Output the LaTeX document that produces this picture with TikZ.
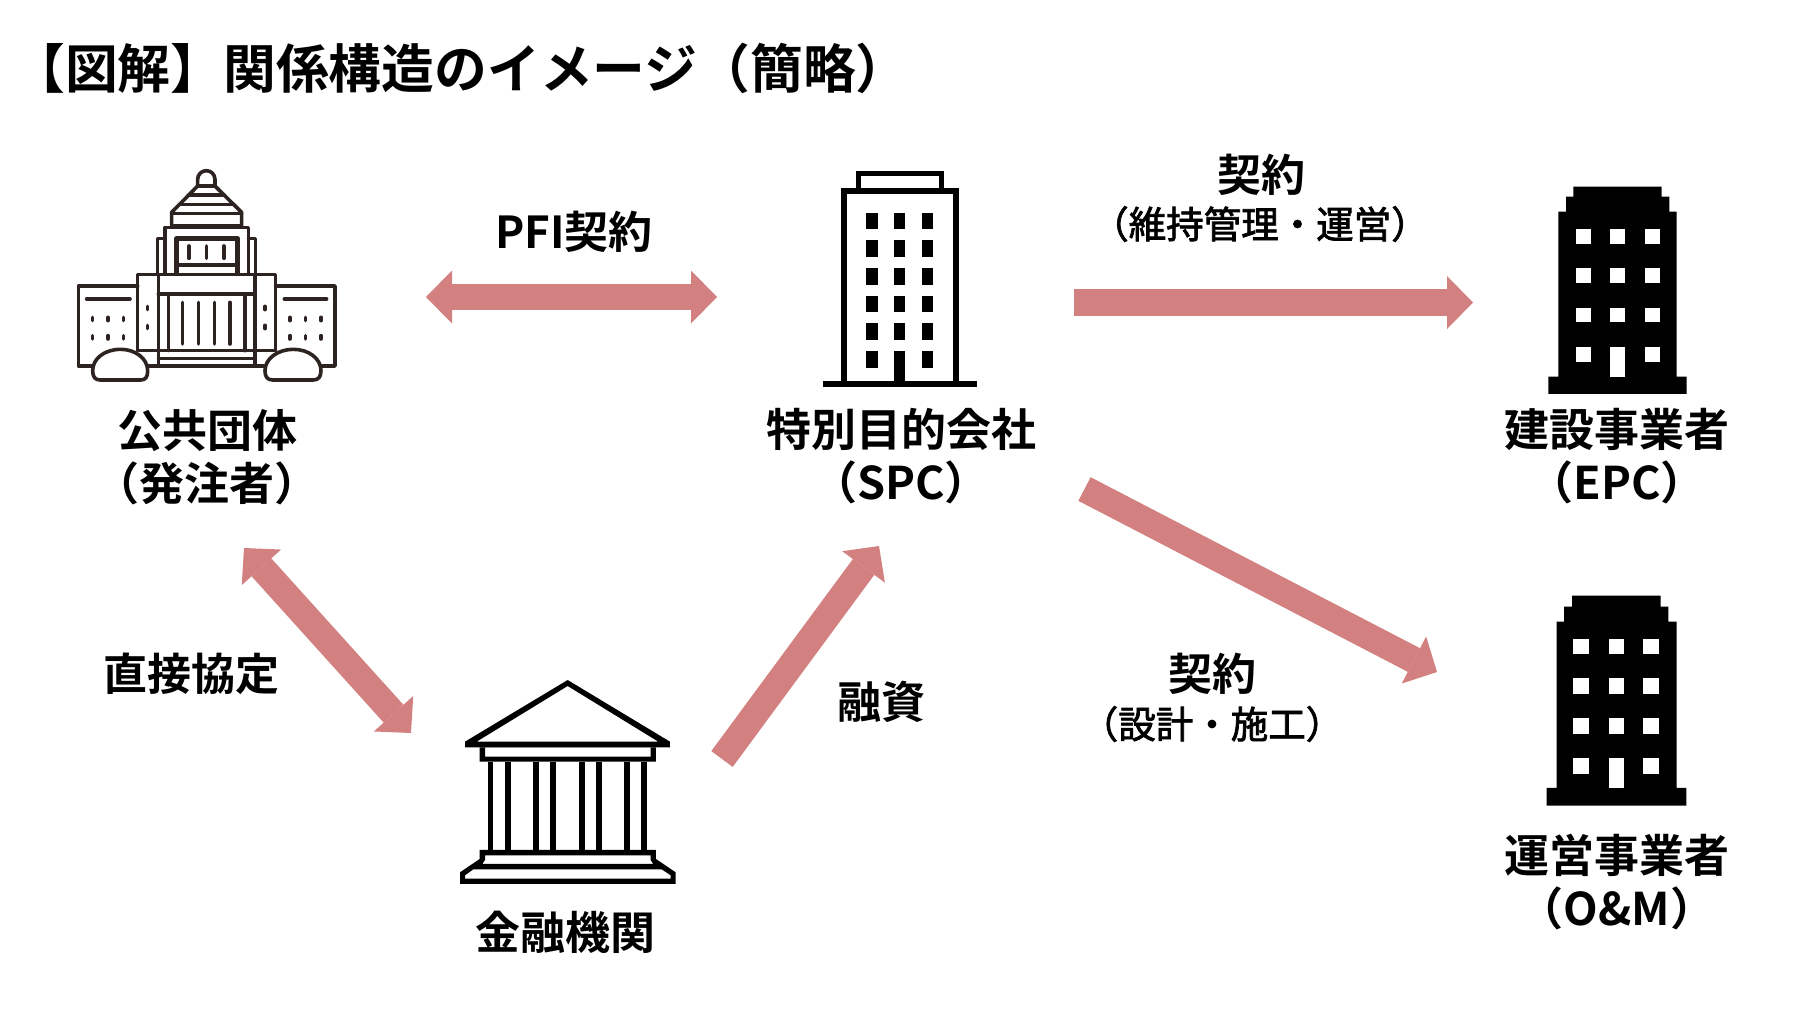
\documentclass[tikz,border=0pt]{standalone}
\usepackage{fontspec}
\usetikzlibrary{arrows.meta}
\setmainfont{Noto Sans CJK JP}
\newfontfamily\jpmed{Noto Sans CJK JP}[FakeBold=2]
\newfontfamily\jpttl{Noto Sans CJK JP}[UprightFont=* Bold]
\definecolor{arrowrose}{RGB}{211,128,128}
\definecolor{capink}{RGB}{45,35,32}
\tikzset{
  x=1pt,y=-1pt,
  blockone/.style={draw=arrowrose,line width=26.6pt,-{Triangle[length=26pt,width=53pt,line width=0pt]}},
  blocktwo/.style={draw=arrowrose,line width=26.6pt,{Triangle[length=26pt,width=53pt,line width=0pt]}-{Triangle[length=26pt,width=53pt,line width=0pt]}},
  actor/.style={inner sep=0pt,align=center,text=black,font=\jpttl\fontsize{45}{53}\selectfont},
  rel/.style={inner sep=0pt,align=center,text=black,font=\jpttl\fontsize{44}{52}\selectfont},
  subrel/.style={inner sep=0pt,align=center,text=black,font=\jpmed\fontsize{37.5}{44}\selectfont},
  titletext/.style={inner sep=0pt,anchor=west,text=black,font=\jpttl\fontsize{52.8}{60}\selectfont},
  zoomed/.style={x=0.3333pt,y=-0.3333pt},
  capline/.style={draw=capink,line width=3.6pt,line join=round,line cap=round,fill=none},
  capbold/.style={draw=capink,line width=4.4pt,line join=round,line cap=round,fill=none},
  capbush/.style={draw=capink,line width=3.6pt,line join=round,fill=white},
}
\begin{document}
\begin{tikzpicture}
\useasboundingbox[fill=white] (0,0) rectangle (1800,1013);

\node[titletext] (title) at (12,68) {【図解】関係構造のイメージ（簡略）};

% --- capitol ---
\begin{scope}[shift={(50,150)},zoomed]
 \draw[capline] (443,108) -- (443,88) arc[start angle=180,end angle=360,radius=26] -- (495,108) -- cycle;
 \draw[capline] (443,108) -- (365,187) -- (365,228) -- (575,228) -- (575,187) -- (495,108);
 \draw[capline] (418,135) -- (522,135) (392,163) -- (548,163) (365,190) -- (575,190);
 \draw[capline] (345,370) -- (345,232) -- (595,232) -- (595,370);
 \draw[capline] (345,265) -- (323,265) -- (323,370) (595,265) -- (617,265) -- (617,370);
 \draw[capbold] (380,370) -- (380,265) -- (563,265) -- (563,370);
 \draw[capline] (380,345) -- (563,345);
 \draw[capline] (417,288) -- (417,325) (470,288) -- (470,325) (522,288) -- (522,325);
 \draw[capline] (263,602) -- (263,374) -- (677,374) -- (677,602);
 \draw[capline] (325,374) -- (325,645) (615,374) -- (615,645);
 \draw[capline] (325,432) -- (615,432);
 \draw[capline] (355,432) -- (355,602) (585,432) -- (585,602);
 \draw[capline] (398,457) -- (398,582) (445,457) -- (445,582) (493,457) -- (493,582) (540,457) -- (540,582);
 \draw[capline] (263,602) -- (677,602) (325,625) -- (615,625);
 \draw[capline] (263,408) -- (85,408) -- (85,648) -- (855,648) -- (855,408) -- (677,408);
 \draw[capline] (110,447) -- (240,447) (703,447) -- (830,447);
 \foreach \cx in {127,174,220,720,767,813}{
   \foreach \cy in {507,562}{\draw[capline] (\cx,\cy-5) -- (\cx,\cy+5);}
 }
 \foreach \cx in {293,645}{
   \foreach \cy in {474,531}{\draw[capline] (\cx,\cy-5) -- (\cx,\cy+5);}
 }
 \draw[capbush] (150,690) -- (272,690) .. controls (288,690) and (293,680) .. (293,662)
   .. controls (293,625) and (255,598) .. (212,598) .. controls (165,598) and (128,625) .. (128,662)
   .. controls (128,680) and (135,690) .. (150,690) -- cycle;
 \draw[capbush] (668,690) -- (790,690) .. controls (806,690) and (813,680) .. (813,662)
   .. controls (813,625) and (775,598) .. (730,598) .. controls (685,598) and (645,625) .. (645,662)
   .. controls (645,680) and (652,690) .. (668,690) -- cycle;
\end{scope}

% --- SPC tower ---
\begin{scope}[shift={(800,150)},zoomed]
 \draw[black,line width=5.7pt] (133,703) -- (133,122) -- (467,122) -- (467,703);
 \draw[black,line width=5.2pt] (175,120) -- (175,70) -- (425,70) -- (425,120);
 \draw[black,line width=5.7pt] (68,703) -- (532,703);
 \foreach \wy/\wz in {188/238,271/320,354/404,437/487,520/570,603/653}{
   \foreach \wx/\wr in {198/235,282/316,365/400}{
     \fill[black] (\wx,\wy) rectangle (\wr,\wz);
   }
 }
 \fill[black] (282,603) rectangle (316,703);
\end{scope}

% --- bank ---
\begin{scope}[shift={(440,660)},zoomed]
 \fill[black,even odd rule] (383,60) -- (690,245) -- (690,262) -- (75,262) -- (75,245) -- cycle
   (383,78) -- (110,245) -- (655,245) -- cycle;
 \fill[black,even odd rule] (119,262) rectangle (648,305) (135,262) rectangle (632,290);
 \foreach \colx in {152,204,289,340,426,477,562,613}{
   \fill[black] (\colx-8.5,305) rectangle (\colx+8.5,570);
 }
 \fill[black,even odd rule] (119,570) -- (648,570) -- (648,597) -- (707,637) -- (707,672) -- (60,672) -- (60,637) -- (119,597) -- cycle
   (135,586) -- (632,586) -- (632,600) -- (640,612) -- (127,612) -- (135,600) -- cycle
   (100,628) -- (665,628) -- (692,646) -- (692,656) -- (75,656) -- (75,646) -- cycle;
\end{scope}

% --- EPC tower ---
\begin{scope}[shift={(1530,170)},zoomed]
 \fill[black] (130,50) -- (395,50) -- (395,80) -- (418,80) -- (418,125) -- (440,125) -- (440,620) -- (470,620) -- (470,672) -- (55,672) -- (55,620) -- (85,620) -- (85,125) -- (108,125) -- (108,80) -- (130,80) -- cycle;
 \foreach \wy/\wz in {177/221,295/339,413/457,531/575}{
   \foreach \wx/\wr in {137/182,240/285,344/389}{
     \fill[white] (\wx,\wy) rectangle (\wr,\wz);
   }
 }
 \fill[white] (240,531) rectangle (285,620);
\end{scope}

% --- O&M tower ---
\begin{scope}[shift={(1530,580)},zoomed]
 \fill[black] (126,47) -- (392,47) -- (392,80) -- (415,80) -- (415,125) -- (440,125) -- (440,624) -- (469,624) -- (469,677) -- (50,677) -- (50,624) -- (80,624) -- (80,125) -- (102,125) -- (102,80) -- (126,80) -- cycle;
 \foreach \wy/\wz in {177/221,295/342,413/462,534/581}{
   \foreach \wx/\wr in {130/178,236/283,340/388}{
     \fill[white] (\wx,\wy) rectangle (\wr,\wz);
   }
 }
 \fill[white] (236,534) rectangle (283,624);
\end{scope}

% --- actor labels ---
\node[actor] (pub) at (207,457) {公共団体\\（発注者）};
\node[actor] (spc) at (901,456) {特別目的会社\\（SPC）};
\node[actor] (epc) at (1617,456) {建設事業者\\（EPC）};
\node[actor] (om) at (1617,882) {運営事業者\\（O\&M）};
\node[actor] (bank) at (565,932) {金融機関};

% --- relation labels ---
\node[rel] (pfi) at (574,232) {PFI契約};
\node[rel] (c1) at (1261,175) {契約};
\node[subrel] (c1s) at (1260,224) {（維持管理・運営）};
\node[rel] (direct) at (191,674) {直接協定};
\node[rel] (fin) at (881,702) {融資};
\node[rel] (c2) at (1212,674) {契約};
\node[subrel] (c2s) at (1212,724) {（設計・施工）};

% --- connectors ---
\coordinate (pubE) at (426,297);
\coordinate (spcW) at (717,297);
\coordinate (spcE) at (1074,302.5);
\coordinate (epcW) at (1473,302.5);
\coordinate (spcS) at (1084.5,489);
\coordinate (omW) at (1437,672);
\coordinate (pubS) at (244,548);
\coordinate (bankW) at (411,733);
\coordinate (bankE) at (722,759);
\coordinate (spcSW) at (879,546);
\draw[blocktwo] (pubE) -- (spcW);
\draw[blockone] (spcE) -- (epcW);
\draw[blockone] (spcS) -- (omW);
\draw[blocktwo] (pubS) -- (bankW);
\draw[blockone] (bankE) -- (spcSW);
\end{tikzpicture}
\end{document}
